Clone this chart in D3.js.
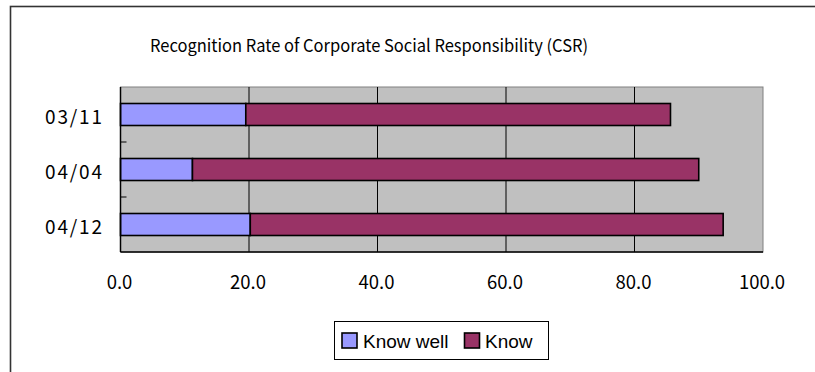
<!DOCTYPE html>
<html><head><meta charset="utf-8">
<script src="https://cdn.jsdelivr.net/npm/d3@7"></script>
<style>html,body{margin:0;padding:0;background:#fff;overflow:hidden}</style>
</head><body>
<script>
const title = "Recognition Rate of Corporate Social Responsibility (CSR)";
const categories = ["03/11", "04/04", "04/12"];
const seriesNames = ["Know well", "Know"];
const knowWell = [19.5, 11.2, 20.2];
const know = [66.1, 78.8, 73.6];
const xTicks = [0, 20, 40, 60, 80, 100];
const colors = ["#9999FF", "#993366"];

const W = 815, H = 372;
const svg = d3.select("body").append("svg").attr("width", W).attr("height", H);

// outer chart frame
svg.append("rect").attr("x", 10.5).attr("y", 6.5).attr("width", 900).attr("height", 500)
  .attr("fill", "#fff").attr("stroke", "#333").attr("stroke-width", 1.6);

const L = 120.5, R = 763, T = 87, B = 252;
const x = d3.scaleLinear().domain([0, 100]).range([L, R]);
const y = d3.scaleBand().domain(categories).range([T, B]).paddingInner(0.6).paddingOuter(0.3);

// plot background
svg.append("rect").attr("x", L).attr("y", T).attr("width", R - L).attr("height", B - T)
  .attr("fill", "#C0C0C0").attr("stroke", "#808080").attr("stroke-width", 1);

// gridlines
svg.append("g").selectAll("line").data(xTicks.slice(1, -1)).join("line")
  .attr("x1", d => x(d)).attr("x2", d => x(d)).attr("y1", T).attr("y2", B)
  .attr("stroke", "#000").attr("stroke-width", 1);

// stacked bars
const rows = categories.map((c, i) => ({ c, v: [knowWell[i], know[i]] }));
rows.forEach(r => {
  let acc = 0;
  r.v.forEach((v, j) => {
    svg.append("rect")
      .attr("x", x(acc)).attr("y", y(r.c))
      .attr("width", x(acc + v) - x(acc)).attr("height", y.bandwidth())
      .attr("fill", colors[j]).attr("stroke", "#000").attr("stroke-width", 1.6);
    acc += v;
  });
});

// axes lines
svg.append("line").attr("x1", L).attr("x2", L).attr("y1", T).attr("y2", B)
  .attr("stroke", "#000").attr("stroke-width", 1.5);
svg.append("line").attr("x1", L).attr("x2", R).attr("y1", B).attr("y2", B)
  .attr("stroke", "#000").attr("stroke-width", 1.5);

// y ticks at band boundaries (inward)
const bounds = categories.slice(1).map(c => y(c) - y.step() * y.paddingInner() / 2);
svg.append("g").selectAll("line").data(bounds).join("line")
  .attr("x1", L).attr("x2", L + 6).attr("y1", d => d).attr("y2", d => d)
  .attr("stroke", "#000").attr("stroke-width", 1);

// category labels
svg.append("g").selectAll("text").data(categories).join("text")
  .attr("x", 102).attr("y", d => y(d) + y.bandwidth() / 2 + 9.5)
  .attr("text-anchor", "end")
  .attr("font-family", "'Noto Sans CJK JP', sans-serif").attr("font-size", 19)
  .attr("textLength", 57).attr("lengthAdjust", "spacing")
  .attr("fill", "#000").text(d => d);

// x tick labels
svg.append("g").selectAll("text").data(xTicks).join("text")
  .attr("x", d => x(d) - 1).attr("y", 289)
  .attr("text-anchor", "middle")
  .attr("font-family", "'Noto Sans CJK JP', sans-serif").attr("font-size", 18.5)
  .attr("fill", "#000").text(d => d3.format(".1f")(d));

// title
svg.append("text").attr("x", 150).attr("y", 52)
  .attr("font-family", "'Noto Sans CJK JP', sans-serif").attr("font-size", 17.5)
  .attr("textLength", 438).attr("lengthAdjust", "spacingAndGlyphs")
  .attr("fill", "#000").text(title);

// legend
const lg = svg.append("g");
lg.append("rect").attr("x", 334.5).attr("y", 321.5).attr("width", 214).attr("height", 38)
  .attr("fill", "#fff").attr("stroke", "#000").attr("stroke-width", 1);
const items = [{ n: seriesNames[0], sx: 342, tx: 363 }, { n: seriesNames[1], sx: 464.5, tx: 485 }];
items.forEach((it, i) => {
  lg.append("rect").attr("x", it.sx).attr("y", 333).attr("width", 15).attr("height", 15)
    .attr("fill", colors[i]).attr("stroke", "#000").attr("stroke-width", 1.6);
  lg.append("text").attr("x", it.tx).attr("y", 347.5)
    .attr("font-family", "'Liberation Sans', Arial, sans-serif").attr("font-size", 19)
    .attr("fill", "#000").text(it.n);
});
</script>
</body></html>
